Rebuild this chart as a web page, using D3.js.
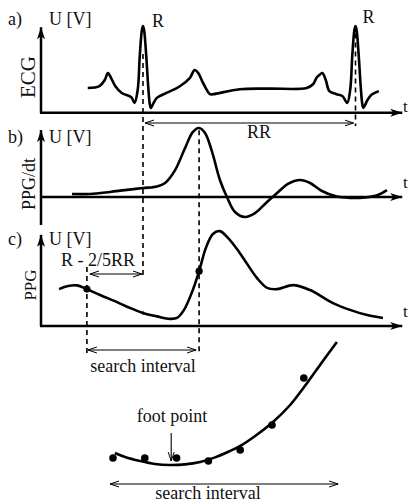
<!DOCTYPE html>
<html>
<head>
<meta charset="utf-8">
<script src="https://cdn.jsdelivr.net/npm/d3@7"></script>
<style>
  body { margin: 0; background: #fff; }
  text { font-family: "Liberation Serif", "DejaVu Serif", serif; fill: #111; }
</style>
</head>
<body>
<script>
// ECG, time in ms, voltage in mV
var ecgT = [220, 275, 300, 315, 330, 350, 380, 425, 440, 455, 465, 475, 480, 485, 495, 505, 512, 517, 527, 545, 590, 650, 700, 723, 740, 760, 780, 795, 810, 935, 1075, 1250, 1280, 1296, 1310, 1324, 1340, 1357, 1390, 1418, 1441, 1455, 1465, 1475, 1480, 1485, 1495, 1505, 1512, 1517, 1527, 1537, 1555, 1590];
var ecgU = [0, 0.03, 0.13, 0.24, 0.16, 0.03, -0.08, -0.15, -0.24, -0.03, 0.53, 0.94, 1.0, 0.94, 0.53, 0, -0.26, -0.32, -0.26, -0.16, -0.08, 0.02, 0.16, 0.29, 0.24, 0.1, -0.03, -0.1, -0.1, -0.02, -0.01, 0, 0.06, 0.16, 0.21, 0.24, 0.13, -0.05, -0.1, -0.13, -0.24, -0.03, 0.53, 0.94, 1.0, 0.94, 0.53, 0, -0.26, -0.32, -0.26, -0.19, -0.11, -0.05];

// derivative of PPG
var dppgT = [146, 231, 325, 395, 480, 546, 584, 631, 678, 715, 744, 772, 805, 842, 875, 913, 960, 1007, 1059, 1111, 1162, 1219, 1266, 1322, 1384, 1454, 1525, 1586, 1628];
var dppgV = [0.13, 0.13, 0.22, 0.3, 0.39, 0.46, 0.61, 1.17, 2.13, 2.83, 3.0, 2.78, 1.96, 0.74, 0, -0.65, -0.87, -0.7, -0.26, 0.17, 0.57, 0.74, 0.61, 0.26, 0.04, -0.04, -0.02, 0.09, 0.3];

// PPG
var ppgT = [85, 127, 169, 216, 278, 358, 419, 480, 546, 607, 640, 673, 711, 744, 776, 809, 842, 880, 936, 1016, 1064, 1111, 1186, 1266, 1374, 1454, 1530, 1609];
var ppgV = [1.19, 1.29, 1.31, 1.19, 1.0, 0.77, 0.58, 0.42, 0.31, 0.23, 0.26, 0.52, 1.1, 1.77, 2.52, 2.97, 3.06, 2.84, 2.35, 1.55, 1.23, 1.19, 1.32, 1.16, 0.74, 0.52, 0.36, 0.26];

// marked moments
var rPeaks = [480, 1480];
var searchStart = 216;   // R - 2/5RR
var dppgMax = 744;

// foot point fit: samples and fitted curve
var sampleK = [0, 1, 2, 3, 4, 5, 6];
var sampleA = [0.35, 0.35, 0.35, 0.2, 0.75, 2.0, 4.35];
var fitK = [0.06, 0.38, 0.85, 1.32, 1.79, 2.26, 2.74, 3.21, 3.68, 4.0, 4.47, 5.03, 5.57, 6.01, 6.51, 7.04];
var fitA = [0.6, 0.4, 0.2, 0.05, 0, 0.03, 0.15, 0.38, 0.7, 0.95, 1.45, 2.15, 3.0, 3.9, 5.0, 6.15];
var footK = 1.83;

var width = 409, height = 504;

var svg = d3.select("body").append("svg")
    .attr("width", width)
    .attr("height", height);

var defs = svg.append("defs");
defs.append("marker")
    .attr("id", "head")
    .attr("markerUnits", "userSpaceOnUse")
    .attr("markerWidth", 13).attr("markerHeight", 9)
    .attr("refX", 12).attr("refY", 4.5)
    .attr("orient", "auto")
  .append("path")
    .attr("d", "M0,0.5 L12,4.5 L0,8.5 L3,4.5 Z")
    .attr("fill", "#000");
defs.append("marker")
    .attr("id", "open")
    .attr("markerUnits", "userSpaceOnUse")
    .attr("markerWidth", 10).attr("markerHeight", 8)
    .attr("refX", 9).attr("refY", 4)
    .attr("orient", "auto-start-reverse")
  .append("path")
    .attr("d", "M0,1 L9,4 L0,7")
    .attr("fill", "none")
    .attr("stroke", "#000")
    .attr("stroke-width", 1);

// shared time scale
var x = d3.scaleLinear().domain([0, 1700]).range([41, 402.25]);
var ya = d3.scaleLinear().domain([-0.4, 1.0]).range([112.8, 26]);
var yb = d3.scaleLinear().domain([-1.2, 3]).range([224.6, 128]);
var yc = d3.scaleLinear().domain([0, 3]).range([326, 233]);
// zoomed foot point view
var xs = d3.scaleLinear().domain([0, 7]).range([113, 335.6]);
var ys = d3.scaleLinear().domain([0, 6]).range([465, 345]);

var curve = d3.curveCatmullRom.alpha(0.5);

function axisPair(y, lo, hi, base) {
  svg.append("line")
      .attr("x1", x(0)).attr("x2", x(0))
      .attr("y1", y(lo)).attr("y2", y(hi))
      .attr("stroke", "#000").attr("stroke-width", 2.5)
      .attr("marker-end", "url(#head)");
  svg.append("line")
      .attr("x1", x(0) - 1).attr("x2", x(1700))
      .attr("y1", y(base)).attr("y2", y(base))
      .attr("stroke", "#000").attr("stroke-width", 2.5)
      .attr("marker-end", "url(#head)");
}
axisPair(ya, -0.4, 0.98, -0.4);
axisPair(yb, -1.22, 2.91, 0);
axisPair(yc, 0, 2.94, 0);

function trace(ts, vs, y) {
  var pts = ts.map(function(t, i) { return [t, vs[i]]; });
  svg.append("path")
      .datum(pts)
      .attr("fill", "none")
      .attr("stroke", "#000")
      .attr("stroke-width", 2.6)
      .attr("stroke-linejoin", "round")
      .attr("d", d3.line().curve(curve)
        .x(function(d) { return x(d[0]); })
        .y(function(d) { return y(d[1]); }));
}
trace(ecgT, ecgU, ya);
trace(dppgT, dppgV, yb);
trace(ppgT, ppgV, yc);

// dashed guides
function dashed(x1, y1, y2) {
  svg.append("line")
      .attr("x1", x1).attr("x2", x1)
      .attr("y1", y1).attr("y2", y2)
      .attr("stroke", "#000")
      .attr("stroke-width", 1.6)
      .attr("stroke-dasharray", "5,4");
}
dashed(x(rPeaks[0]), ya(0.55), yc(1.55));
dashed(x(rPeaks[0]), yc(0.47), yc(0.37));
dashed(x(rPeaks[1]), ya(0.88), 126);
dashed(x(dppgMax), yb(2.9), 353);
dashed(x(searchStart), yc(1.9), 353);

// annotation arrows
function arrow(x1, x2, y) {
  svg.append("line")
      .attr("x1", x1).attr("x2", x2)
      .attr("y1", y).attr("y2", y)
      .attr("stroke", "#000").attr("stroke-width", 1.1)
      .attr("marker-start", "url(#open)")
      .attr("marker-end", "url(#open)");
}
arrow(x(rPeaks[0]) + 2, x(rPeaks[1]) - 2, 123);
arrow(x(searchStart) + 3, x(rPeaks[0]) - 1, 274);
arrow(x(searchStart) + 1, x(dppgMax) - 3, 350);
arrow(xs(-0.09), xs(7.08), 484);

// marked points on PPG
var marks = [searchStart, dppgMax];
svg.selectAll(".ppgpt")
    .data(marks)
  .enter().append("circle")
    .attr("class", "ppgpt")
    .attr("cx", function(t) { return x(t); })
    .attr("cy", function(t) {
      var i = d3.bisectLeft(ppgT, t);
      return yc(ppgV[i]);
    })
    .attr("r", 3.6)
    .attr("fill", "#000");

// fit view
var fit = fitK.map(function(k, i) { return [k, fitA[i]]; });
svg.append("path")
    .datum(fit)
    .attr("fill", "none")
    .attr("stroke", "#000")
    .attr("stroke-width", 2.6)
    .attr("d", d3.line().curve(curve)
      .x(function(d) { return xs(d[0]); })
      .y(function(d) { return ys(d[1]); }));

svg.selectAll(".sample")
    .data(sampleK)
  .enter().append("circle")
    .attr("class", "sample")
    .attr("cx", function(k) { return xs(k); })
    .attr("cy", function(k, i) { return ys(sampleA[i]); })
    .attr("r", 3.8)
    .attr("fill", "#000");

svg.append("line")
    .attr("x1", xs(footK)).attr("x2", xs(footK))
    .attr("y1", 433).attr("y2", ys(0.2))
    .attr("stroke", "#000").attr("stroke-width", 1.1)
    .attr("marker-end", "url(#open)");

// labels
function label(txt, px, py, size, anchor) {
  return svg.append("text")
      .attr("x", px).attr("y", py)
      .attr("font-size", size)
      .attr("text-anchor", anchor || "start")
      .text(txt);
}
label("a)", 8, 25, 18);
label("U [V]", 49, 25, 18);
label("b)", 8, 143, 18);
label("U [V]", 49, 143, 18);
label("c)", 8, 245, 18);
label("U [V]", 49, 245, 18);
label("R", x(rPeaks[0]) + 9, 27, 18);
label("R", x(rPeaks[1]) + 7, 23, 18);
label("RR", 259, 138, 18, "middle");
label("t", 403, 112, 17);
label("t", 403, 188, 17);
label("t", 403, 317, 17);
label("R - 2/5RR", 98, 266, 18, "middle");
label("search interval", 143, 372, 18, "middle");
label("foot point", 172, 422, 18, "middle");
label("search interval", 208, 499, 18, "middle");

function vlabel(txt, cx, cy, size) {
  svg.append("text")
      .attr("transform", "translate(" + cx + "," + cy + ") rotate(-90)")
      .attr("font-size", size)
      .attr("text-anchor", "middle")
      .text(txt);
}
vlabel("ECG", 35, 77, 21);
vlabel("PPG/dt", 35, 184, 18);
vlabel("PPG", 36, 285, 17);
</script>
</body>
</html>
